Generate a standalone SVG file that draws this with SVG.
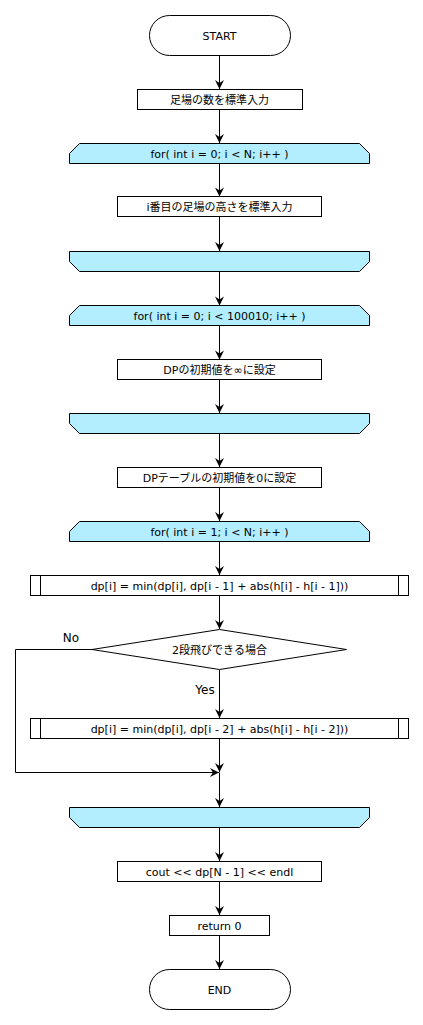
<svg xmlns="http://www.w3.org/2000/svg" width="423" height="1025" viewBox="0 0 423 1025">
<style>
.n{fill:#fff;stroke:#000;stroke-width:1}
.lp{fill:#b2eeff;stroke:#000;stroke-width:1}
.t{font-family:"DejaVu Sans","Noto Sans CJK JP",sans-serif;font-size:11px;fill:#000;text-anchor:middle}
.lb{font-family:"DejaVu Sans","Noto Sans CJK JP",sans-serif;font-size:12px;fill:#000;text-anchor:middle}
.c{fill:none;stroke:#000;stroke-width:1}
</style>
<defs>
<marker id="ah" markerUnits="userSpaceOnUse" markerWidth="12" markerHeight="12" viewBox="-10 -6 12 12" refX="0" refY="0" orient="auto">
<path d="M0,0 L-9,-4.5 L-6,0 L-9,4.5 Z" fill="#000"/>
</marker>
</defs>
<rect width="423" height="1025" fill="#fff"/>
<g id="connectors">
<path class="c" d="M219.5,55.5V89" marker-end="url(#ah)"/>
<path class="c" d="M219.5,109.5V143" marker-end="url(#ah)"/>
<path class="c" d="M219.5,163.5V196.5" marker-end="url(#ah)"/>
<path class="c" d="M219.5,216.5V251" marker-end="url(#ah)"/>
<path class="c" d="M219.5,271.5V305.5" marker-end="url(#ah)"/>
<path class="c" d="M219.5,325.5V359.5" marker-end="url(#ah)"/>
<path class="c" d="M219.5,379.5V413" marker-end="url(#ah)"/>
<path class="c" d="M219.5,433.5V467" marker-end="url(#ah)"/>
<path class="c" d="M219.5,487.5V521" marker-end="url(#ah)"/>
<path class="c" d="M219.5,541.5V575" marker-end="url(#ah)"/>
<path class="c" d="M219.5,595.5V629" marker-end="url(#ah)"/>
<path class="c" d="M219.5,669.5V718" marker-end="url(#ah)"/>
<path class="c" d="M219.5,738.5V772" marker-end="url(#ah)"/>
<path class="c" d="M92,649.5H15.5V772.5H219" marker-end="url(#ah)"/>
<path class="c" d="M219.5,772.5V807" marker-end="url(#ah)"/>
<path class="c" d="M219.5,827.5V861" marker-end="url(#ah)"/>
<path class="c" d="M219.5,881.5V915" marker-end="url(#ah)"/>
<path class="c" d="M219.5,935.5V969" marker-end="url(#ah)"/>
<text class="lb" x="71" y="642">No</text>
<text class="lb" x="205" y="694">Yes</text>
</g>
<g id="start">
<rect class="n" x="149.5" y="15.5" width="141" height="40" rx="20" ry="20"/>
<text class="t" x="219.5" y="40">START</text>
</g>
<g id="input-n">
<rect class="n" x="137.5" y="89.5" width="165" height="20"/>
<text class="t" x="219.5" y="103.5">足場の数を標準入力</text>
</g>
<g id="loop1">
<path class="lp" d="M79.5,143.5H359.5L369.5,153.5V163.5H69.5V153.5Z"/>
<text class="t" x="219.5" y="157.5">for( int i = 0; i &lt; N; i++ )</text>
</g>
<g id="input-h">
<rect class="n" x="117.5" y="196.5" width="204" height="20"/>
<text class="t" x="219.5" y="210.5">i番目の足場の高さを標準入力</text>
</g>
<g id="loopend1">
<path class="lp" d="M69.5,251.5H369.5V261.5L359.5,271.5H79.5L69.5,261.5Z"/>
</g>
<g id="loop2">
<path class="lp" d="M79.5,305.5H359.5L369.5,315.5V325.5H69.5V315.5Z"/>
<text class="t" x="219.5" y="319.5">for( int i = 0; i &lt; 100010; i++ )</text>
</g>
<g id="init-inf">
<rect class="n" x="117.5" y="359.5" width="204" height="20"/>
<text class="t" x="219.5" y="373.5">DPの初期値を∞に設定</text>
</g>
<g id="loopend2">
<path class="lp" d="M69.5,413.5H369.5V423.5L359.5,433.5H79.5L69.5,423.5Z"/>
</g>
<g id="init-zero">
<rect class="n" x="117.5" y="467.5" width="204" height="20"/>
<text class="t" x="219.5" y="481.5">DPテーブルの初期値を0に設定</text>
</g>
<g id="loop3">
<path class="lp" d="M79.5,521.5H359.5L369.5,531.5V541.5H69.5V531.5Z"/>
<text class="t" x="219.5" y="535.5">for( int i = 1; i &lt; N; i++ )</text>
</g>
<g id="proc1">
<rect class="n" x="30.5" y="575.5" width="378" height="20"/>
<path class="c" d="M40.5,575.5V595.5M398.5,575.5V595.5"/>
<text class="t" x="219.5" y="589.5">dp[i] = min(dp[i], dp[i - 1] + abs(h[i] - h[i - 1]))</text>
</g>
<g id="decision">
<path class="n" d="M219.5,629.5L346.5,649.5L219.5,669.5L92,649.5Z"/>
<text class="t" x="219.5" y="653.5">2段飛びできる場合</text>
</g>
<g id="proc2">
<rect class="n" x="30.5" y="718.5" width="378" height="20"/>
<path class="c" d="M40.5,718.5V738.5M398.5,718.5V738.5"/>
<text class="t" x="219.5" y="732.5">dp[i] = min(dp[i], dp[i - 2] + abs(h[i] - h[i - 2]))</text>
</g>
<g id="loopend3">
<path class="lp" d="M69.5,807.5H369.5V817.5L359.5,827.5H79.5L69.5,817.5Z"/>
</g>
<g id="output">
<rect class="n" x="117.5" y="861.5" width="204" height="20"/>
<text class="t" x="219.5" y="875.5">cout &lt;&lt; dp[N - 1] &lt;&lt; endl</text>
</g>
<g id="return">
<rect class="n" x="169.5" y="915.5" width="100" height="20"/>
<text class="t" x="219.5" y="929.5">return 0</text>
</g>
<g id="end">
<rect class="n" x="149.5" y="969.5" width="141" height="40" rx="20" ry="20"/>
<text class="t" x="219.5" y="994">END</text>
</g>
</svg>
